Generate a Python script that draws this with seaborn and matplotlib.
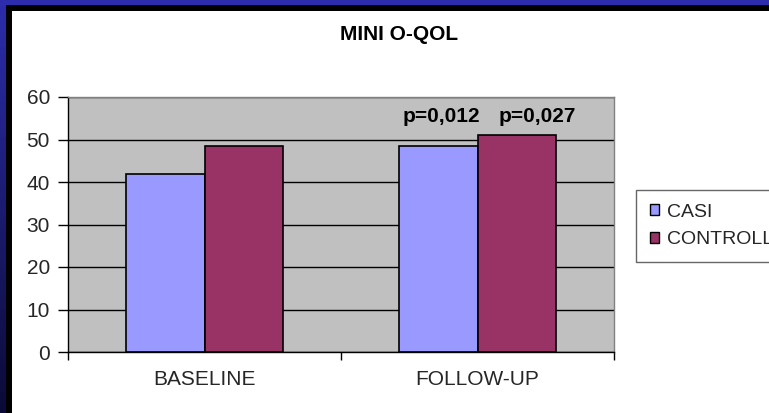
import matplotlib
matplotlib.use("Agg")
import matplotlib.pyplot as plt
from matplotlib.patches import Rectangle, Patch
import numpy as np
import pandas as pd
import seaborn as sns

# ---- data ----
categories = ["BASELINE", "FOLLOW-UP"]
series = ["CASI", "CONTROLLI"]
casi = [42.0, 48.5]
controlli = [48.5, 51.1]
p_labels = ["p=0,012", "p=0,027"]
p_x = [0.866, 1.218]
p_y = [55.3, 55.3]
title = "MINI O-QOL"
yticks = [0, 10, 20, 30, 40, 50, 60]

colors = ["#9999FF", "#993366"]

sns.set_theme(style="white")
plt.rcParams["font.family"] = ["Liberation Sans", "DejaVu Sans"]

W, H = 769, 413
fig = plt.figure(figsize=(W / 100, H / 100), dpi=100)
fig.patch.set_facecolor("white")

# ---- background frame: blue band (top + left, vertical gradient), black frame ----
top_c = np.array([44, 44, 172]) / 255
bot_c = np.array([10, 10, 55]) / 255
n = 60
for i in range(n):
    f = i / (n - 1)
    c = top_c * (1 - f) + bot_c * f
    y0 = 1 - (i + 1) / n
    fig.patches.append(Rectangle((0, y0), 6 / W, 1 / n + 0.002, facecolor=c,
                                 lw=0, transform=fig.transFigure, zorder=-6,
                                 figure=fig))
fig.patches.append(Rectangle((0, 1 - 5 / H), 1, 5 / H, facecolor=top_c,
                             lw=0, transform=fig.transFigure, zorder=-6,
                             figure=fig))
fig.patches.append(Rectangle((6 / W, 0), 6 / W, 1 - 5 / H, facecolor="black",
                             lw=0, transform=fig.transFigure, zorder=-5,
                             figure=fig))
fig.patches.append(Rectangle((6 / W, 1 - 11 / H), 1 - 6 / W, 6 / H,
                             facecolor="black", lw=0,
                             transform=fig.transFigure, zorder=-5, figure=fig))

# ---- main axes ----
ax = fig.add_axes([68 / W, (H - 352) / H, (614 - 68) / W, (352 - 97) / H])
df = pd.DataFrame({
    "cat": categories * 2,
    "group": [s for s in series for _ in categories],
    "value": casi + controlli,
})
sns.barplot(data=df, x="cat", y="value", hue="group", hue_order=series,
            palette=colors, saturation=1, width=0.575, edgecolor="black",
            linewidth=1.2, ax=ax, legend=False, errorbar=None)

ax.set_facecolor("#C0C0C0")
ax.set_xlim(-0.5, 1.5)
ax.set_ylim(0, 60)
ax.set_yticks(yticks)
ax.set_yticklabels([str(v) for v in yticks], fontsize=15)
ax.set_xlabel("")
ax.set_ylabel("")
ax.set_axisbelow(True)
ax.yaxis.grid(True, color="black", lw=1)
ax.xaxis.grid(False)

ax.tick_params(axis="y", which="major", length=7, width=1, color="black",
               pad=6, left=True, labelsize=15)
ax.set_xticks([0, 1])
ax.set_xticklabels(categories, fontsize=15)
ax.tick_params(axis="x", which="major", length=0, pad=13)
ax.set_xticks([-0.5, 0.5, 1.5], minor=True)
ax.tick_params(axis="x", which="minor", length=6, width=1, color="black",
               bottom=True)

for s in ["left", "bottom"]:
    ax.spines[s].set_color("black")
    ax.spines[s].set_linewidth(1)
for s in ["top", "right"]:
    ax.spines[s].set_color("#808080")
    ax.spines[s].set_linewidth(1)

for lab, x, y in zip(p_labels, p_x, p_y):
    ax.text(x, y, lab, ha="center", va="center", fontsize=15,
            fontweight="bold", color="black")

fig.text(399 / W, 1 - 34 / H, title, ha="center", va="center",
         fontsize=15, fontweight="bold", color="black")

handles = [Patch(facecolor=c, edgecolor="black", linewidth=1) for c in colors]
leg = fig.legend(handles, series, loc="upper left",
                 bbox_to_anchor=(636 / W, 1 - 190 / H), frameon=True,
                 fancybox=False, edgecolor="#404040", fontsize=14,
                 handlelength=0.5, handleheight=0.5, handletextpad=0.4,
                 borderpad=0.7, labelspacing=0.55, borderaxespad=0)
leg.get_frame().set_linewidth(1)

fig.savefig("out.png", dpi=100, facecolor="white")
